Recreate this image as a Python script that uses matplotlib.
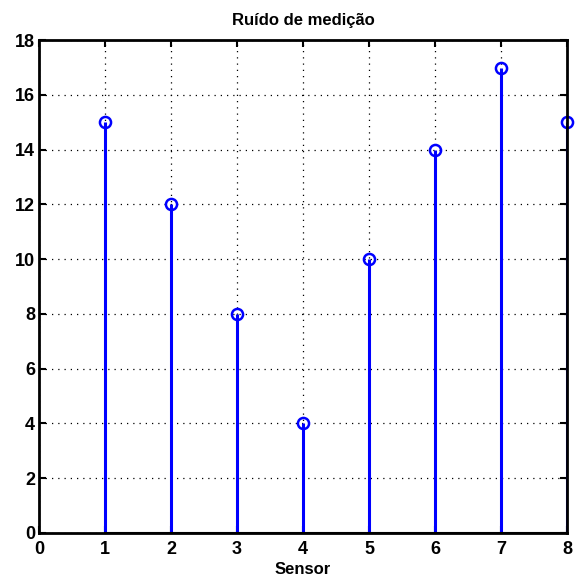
import matplotlib.pyplot as plt

sensores = [1, 2, 3, 4, 5, 6, 7, 8]
ruido = [15, 12, 8, 4, 10, 14, 17, 15]

plt.rcParams['font.family'] = ['Liberation Sans Narrow', 'Liberation Sans', 'DejaVu Sans']
plt.rcParams['font.weight'] = 'bold'

fig = plt.figure(figsize=(5.75, 5.83), dpi=100)
ax = fig.add_axes([0.068, 0.086, 0.918, 0.845])

markerline, stemlines, baseline = ax.stem(sensores, ruido, linefmt='b-', markerfmt='bo', basefmt='k-')
plt.setp(stemlines, linewidth=2.2)
plt.setp(markerline, markerfacecolor='none', markeredgecolor='b', markersize=8, markeredgewidth=1.8, clip_on=False)
plt.setp(baseline, linewidth=1.5)

ax.set_xlim(0, 8)
ax.set_ylim(0, 18)
ax.set_xticks(range(0, 9))
ax.set_yticks(range(0, 19, 2))
ax.grid(True, linestyle=(0, (1, 4)), color='k', linewidth=0.9)
ax.tick_params(direction='in', length=5, width=1.5, labelsize=13, top=True, right=True, pad=3)
ax.tick_params(axis='x', pad=6)
for s in ax.spines.values():
    s.set_linewidth(2)

ax.set_title('Ruído de medição', fontsize=12, fontweight='bold', pad=11)
ax.set_xlabel('Sensor', fontsize=12, fontweight='bold', labelpad=3)

fig.savefig('out.png', dpi=100)
